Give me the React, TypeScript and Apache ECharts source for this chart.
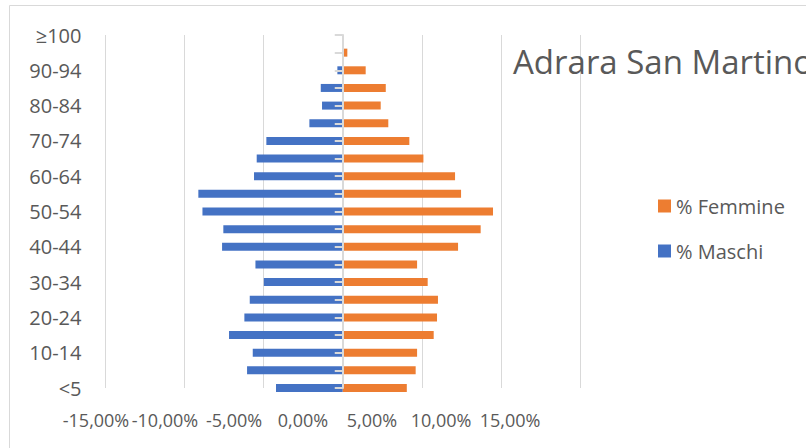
import React, { useEffect, useRef } from "react";
import * as echarts from "echarts";

const categories = [
  "<5", "5-9", "10-14", "15-19", "20-24", "25-29", "30-34", "35-39", "40-44", "45-49",
  "50-54", "55-59", "60-64", "65-69", "70-74", "75-79", "80-84", "85-89", "90-94", "95-99", "≥100",
];
const maschi = [
  -4.22, -6.05, -5.69, -7.19, -6.22, -5.88, -4.99, -5.52, -7.63, -7.55,
  -8.87, -9.13, -5.61, -5.44, -4.83, -2.11, -1.31, -1.39, -0.34, 0, 0,
];
const femmine = [
  4.05, 4.61, 4.70, 5.75, 5.96, 6.02, 5.37, 4.70, 7.29, 8.72,
  9.5, 7.48, 7.1, 5.1, 4.21, 2.88, 2.4, 2.72, 1.45, 0.29, 0,
];
const xTicks = { min: -15, max: 15, interval: 5 };
const title = "Adrara San Martino";

const FONT = "'Open Sans', sans-serif";
const TEXT = "#595959";
const GRID = "#d9d9d9";

export default function App() {
  const ref = useRef<HTMLDivElement>(null);
  useEffect(() => {
    document.body.style.margin = "0";
    const chart = echarts.init(ref.current!, null, { renderer: "svg" });
    const fmt = (v: number) => v.toFixed(2).replace(".", ",") + "%";
    chart.setOption({
      animation: false,
      backgroundColor: "#ffffff",
      textStyle: { fontFamily: FONT },
      title: {
        text: title,
        left: 508,
        top: 40,
        textStyle: { fontFamily: FONT, fontSize: 33, fontWeight: "normal", color: TEXT },
      },
      legend: {
        data: ["% Femmine", "% Maschi"],
        orient: "vertical",
        left: 653,
        top: 191,
        itemWidth: 13,
        itemHeight: 13,
        itemGap: 25,
        icon: "rect",
        textStyle: { fontFamily: FONT, fontSize: 20, color: TEXT, lineHeight: 20 },
      },
      graphic: [
        {
          type: "rect",
          shape: { x: 9.5, y: 5.5, width: 900, height: 500 },
          style: { fill: "none", stroke: GRID, lineWidth: 1 },
          silent: true,
        },
      ],
      grid: [
        { left: 105.5, right: 226, top: 35, bottom: 60, containLabel: false },
        { left: 96, right: 296, top: 35, bottom: 60, containLabel: false },
      ],
      xAxis: [
        {
          type: "value",
          gridIndex: 0,
          min: xTicks.min,
          max: xTicks.max,
          interval: xTicks.interval,
          axisLine: { show: false },
          axisTick: { show: false },
          axisLabel: { show: false },
          splitLine: { show: true, lineStyle: { color: GRID, width: 1 } },
        },
        {
          type: "value",
          gridIndex: 1,
          min: xTicks.min,
          max: xTicks.max,
          interval: xTicks.interval,
          axisLine: { show: false },
          axisTick: { show: false },
          splitLine: { show: false },
          axisLabel: {
            show: true,
            margin: 23,
            fontFamily: FONT,
            fontSize: 18,
            color: TEXT,
            formatter: fmt,
          },
        },
      ],
      yAxis: [
        {
          type: "category",
          gridIndex: 0,
          data: categories,
          boundaryGap: false,
          position: "left",
          axisLine: { show: false, onZero: false },
          axisTick: { show: false },
          splitLine: { show: false },
          axisLabel: {
            interval: 1,
            margin: 24,
            fontFamily: FONT,
            fontSize: 20,
            color: TEXT,
          },
        },
        {
          type: "category",
          gridIndex: 0,
          data: categories,
          boundaryGap: false,
          position: "left",
          z: 10,
          axisLine: { show: true, onZero: true, lineStyle: { color: GRID, width: 2 } },
          axisTick: { show: true, length: 8, interval: 0, lineStyle: { color: GRID, width: 2 } },
          axisLabel: { show: false },
          splitLine: { show: false },
        },
        {
          type: "category",
          gridIndex: 1,
          data: categories,
          show: false,
        },
      ],
      series: [
        {
          name: "% Maschi",
          type: "bar",
          xAxisIndex: 0,
          yAxisIndex: 0,
          data: maschi,
          barWidth: 8,
          barGap: "-100%",
          clip: false,
          itemStyle: { color: "#4472C4" },
        },
        {
          name: "% Femmine",
          type: "bar",
          xAxisIndex: 0,
          yAxisIndex: 0,
          data: femmine,
          barWidth: 8,
          barGap: "-100%",
          clip: false,
          itemStyle: { color: "#ED7D31" },
        },
      ],
    });
    return () => chart.dispose();
  }, []);
  return <div ref={ref} style={{ width: 806, height: 448 }} />;
}
